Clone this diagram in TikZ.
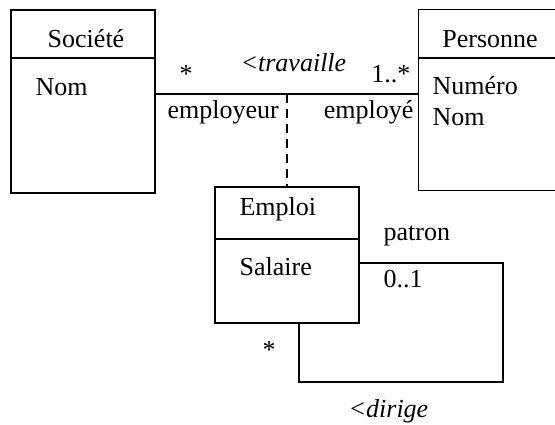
\documentclass[tikz,border=0pt]{standalone}
\usepackage{fontspec}
\setmainfont{Liberation Serif}

\begin{document}
\begin{tikzpicture}[x=0.5pt,y=-0.5pt,line width=0.6pt,
    classe/.style={draw,minimum width=72pt,inner sep=0pt},
    txt/.style={font=\fontsize{13}{15}\selectfont,inner sep=0pt}]
  \useasboundingbox (0,0) rectangle (555,424);
  % les trois classes
  \node[classe,minimum height=91.5pt] (societe) at (83,101.5) {};
  \node[classe,draw=none,minimum width=68pt,minimum height=90pt] (personne) at (487,100) {};
  \node[classe,minimum height=68pt] (emploi) at (287,255) {};
  \draw (personne.north east) -- (personne.north west) -- (personne.south west) -- (personne.south east);
  \draw (societe.west |- 0,58) -- (societe.east |- 0,58);
  \draw (personne.west |- 0,58) -- (personne.east |- 0,58);
  \draw (emploi.west |- 0,239) -- (emploi.east |- 0,239);
  \node[txt,anchor=base] (tsoc) at (86,47) {Société};
  \node[txt,anchor=base west] (nomsoc) at (35,95) {Nom};
  \node[txt,anchor=base] (tpers) at (490,47) {Personne};
  \node[txt,anchor=base west] (num) at (432,94) {Numéro};
  \node[txt,anchor=base west] (nompers) at (432,125) {Nom};
  \node[txt,anchor=base west] (temp) at (239,215) {Emploi};
  \node[txt,anchor=base west] (sal) at (239,275) {Salaire};
  % association travaille + classe-association
  \coordinate (mil) at (287,94);
  \draw (societe.east |- mil) -- (personne.west |- mil);
  \draw[dash pattern=on 4.5pt off 3pt] (mil) -- (emploi.north);
  \node[txt,anchor=base] (m1) at (186,82) {*};
  \node[txt,anchor=base west] (trav) at (240,71) {\textit{<travaille}};
  \node[txt,anchor=base east] (m2) at (411,82) {1..*};
  \node[txt,anchor=base west] (r1) at (167,118) {employeur};
  \node[txt,anchor=base east] (r2) at (414,118) {employé};
  % association reflexive dirige
  \draw (emploi.east |- 0,263) -| (503,382) -| (emploi.south -| 299,0);
  \node[txt,anchor=base west] (r3) at (383,240) {patron};
  \node[txt,anchor=base west] (m3) at (383,287) {0..1};
  \node[txt,anchor=base] (m4) at (269,358) {*};
  \node[txt,anchor=base west] (dir) at (348,417) {\textit{<dirige}};
\end{tikzpicture}
\end{document}
